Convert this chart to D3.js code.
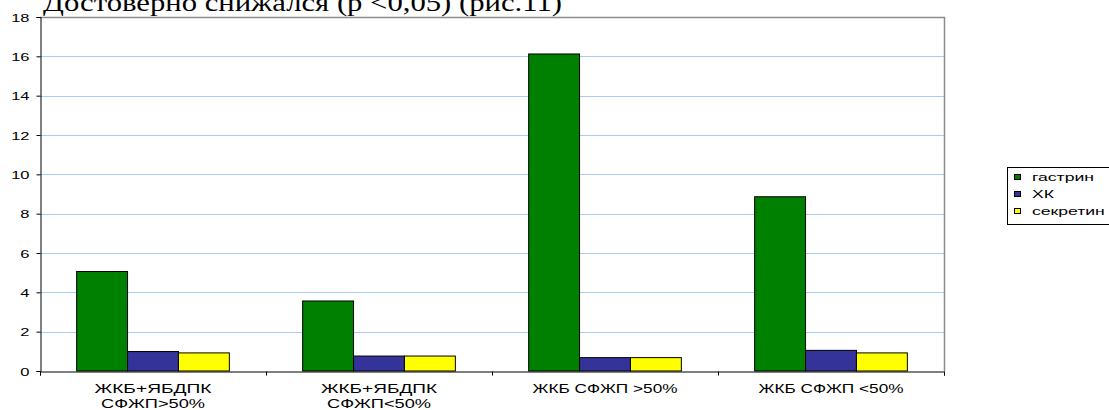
<!DOCTYPE html>
<html>
<head>
<meta charset="utf-8">
<script src="https://cdn.jsdelivr.net/npm/d3@7/dist/d3.min.js"></script>
<style>
  html, body { margin: 0; padding: 0; background: #fff; }
  svg { display: block; }
  text { font-family: "Liberation Sans", Arial, sans-serif; }
</style>
</head>
<body>
<svg id="chart" width="1109" height="410"></svg>
<script>
// Categories (two-line labels) and series values
const categories = ["ЖКБ+ЯБДПК\nСФЖП>50%", "ЖКБ+ЯБДПК\nСФЖП<50%", "ЖКБ СФЖП >50%", "ЖКБ СФЖП <50%"];
const seriesNames = ["гастрин", "ХК", "секретин"];
const gastrin = [5.06, 3.56, 16.12, 8.86];
const xk = [0.99, 0.76, 0.68, 1.05];
const secretin = [0.92, 0.76, 0.68, 0.92];
const yTicks = [0, 2, 4, 6, 8, 10, 12, 14, 16, 18];
const colors = ["#008000", "#333399", "#ffff00"];
const headline = "Достоверно снижался (р <0,05) (рис.11)";

// Layout: the chart's text is drawn wide (stretched horizontally)
const plot = { left: 40, top: 17, right: 944, bottom: 371 };
const labelWidths = [[117, 104], [116, 104], [145], [145]];
const headlineWidth = 519;

const values = [gastrin, xk, secretin];
const svg = d3.select("#chart");

// Fit a text element horizontally to a given width
function stretchTo(sel, width) {
  sel.attr("textLength", width).attr("lengthAdjust", "spacingAndGlyphs");
}

// Partially visible line of text above the chart
svg.append("text")
  .attr("x", 43).attr("y", 11)
  .style("font-family", "'Liberation Serif', 'Times New Roman', serif")
  .style("font-size", "26px")
  .attr("fill", "#000")
  .text(headline)
  .call(stretchTo, headlineWidth);

const x0 = d3.scaleBand().domain(d3.range(categories.length))
  .range([plot.left, plot.right]).paddingInner(0).paddingOuter(0);
const x1 = d3.scaleBand().domain(d3.range(seriesNames.length))
  .range([0, x0.bandwidth()]).paddingInner(0).paddingOuter(0.72);
const y = d3.scaleLinear().domain([0, 18]).range([plot.bottom, plot.top]);

// Gridlines
svg.append("g").selectAll("line").data(yTicks.filter(t => t > 0 && t < 18)).join("line")
  .attr("x1", plot.left).attr("x2", plot.right)
  .attr("y1", d => Math.round(y(d)) + 0.5).attr("y2", d => Math.round(y(d)) + 0.5)
  .attr("stroke", "#a8cdf5").attr("stroke-width", 1);

// Plot frame: top and right edges
svg.append("path")
  .attr("d", `M${plot.left},${plot.top + 0.5}H${plot.right + 0.5}V${plot.bottom}`)
  .attr("fill", "none").attr("stroke", "#8c8c8c").attr("stroke-width", 1.5);

// Bars
const groups = svg.append("g").selectAll("g").data(categories).join("g")
  .attr("transform", (d, i) => `translate(${x0(i)},0)`);
groups.selectAll("rect").data((d, i) => values.map((s, k) => ({ k, v: s[i] }))).join("rect")
  .attr("x", d => x1(d.k))
  .attr("width", x1.bandwidth())
  .attr("y", d => y(d.v))
  .attr("height", d => y(0) - y(d.v))
  .attr("fill", d => colors[d.k])
  .attr("stroke", "#000").attr("stroke-width", 1);

// Y axis
const yAxis = svg.append("g").attr("transform", `translate(${plot.left + 0.5},0)`)
  .call(d3.axisLeft(y).tickValues(yTicks).tickSize(4).tickPadding(3).tickFormat(""));
yAxis.select(".domain").attr("stroke", "#000");
yAxis.selectAll(".tick line").attr("stroke", "#000");
yAxis.selectAll(".tick").append("g")
  .attr("transform", "translate(-11,4) scale(1.5,1)")
  .append("text")
  .attr("text-anchor", "end")
  .style("font-size", "11px").attr("fill", "#000")
  .text(d => d3.format("d")(d));

// X axis
const xAxis = svg.append("g").attr("transform", `translate(0,${plot.bottom + 0.5})`)
  .call(d3.axisBottom(d3.scaleLinear().domain([0, 4]).range([plot.left, plot.right]))
    .tickValues([0, 1, 2, 3, 4]).tickSize(4).tickFormat(""));
xAxis.select(".domain").attr("stroke", "#000");
xAxis.selectAll(".tick line").attr("stroke", "#000");

// Category labels
svg.append("g").selectAll("g").data(categories).join("g")
  .each(function (d, i) {
    const cx = x0(i) + x0.bandwidth() / 2;
    d.split("\n").forEach((line, j) => {
      d3.select(this).append("text")
        .attr("x", cx - labelWidths[i][j] / 2)
        .attr("y", plot.bottom + 22 + j * 15)
        .style("font-size", "13px")
        .attr("fill", "#000")
        .text(line)
        .call(stretchTo, labelWidths[i][j]);
    });
  });

// Legend
const legend = svg.append("g").attr("transform", "translate(1007,167)");
legend.append("rect").attr("x", 0.5).attr("y", 0.5).attr("width", 110).attr("height", 57)
  .attr("fill", "#fff").attr("stroke", "#000").attr("stroke-width", 1);
const items = legend.selectAll("g.item").data(seriesNames).join("g").attr("class", "item")
  .attr("transform", (d, i) => `translate(7,${10 + i * 17})`);
items.append("rect").attr("x", 0.5).attr("y", -2.5).attr("width", 6).attr("height", 5)
  .attr("fill", (d, i) => colors[i]).attr("stroke", "#000").attr("stroke-width", 1);
items.append("g").attr("transform", "translate(18,4) scale(1.6,1)")
  .append("text")
  .style("font-size", "11px").attr("fill", "#000")
  .text(d => d);
</script>
</body>
</html>
